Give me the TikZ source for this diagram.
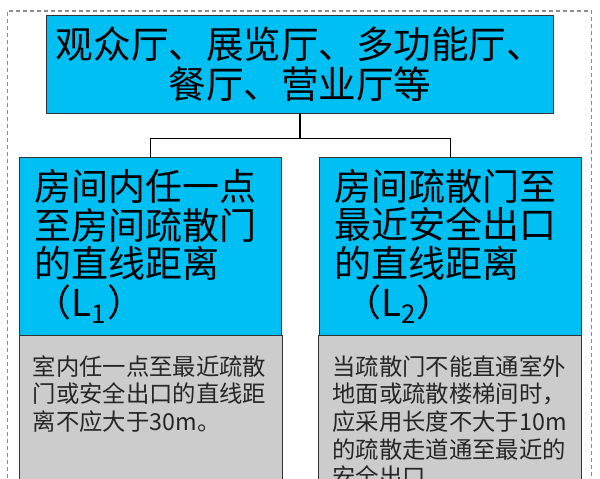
\documentclass[tikz,border=0pt]{standalone}
\usepackage{fontspec}
\setmainfont{Noto Sans CJK SC}
\usetikzlibrary{positioning}
\definecolor{hallblue}{RGB}{0,191,243}
\definecolor{rulegray}{RGB}{204,204,204}
\definecolor{framegray}{RGB}{140,140,140}

\tikzset{
	frame/.style={framegray, line width=0.8pt, dash pattern=on 0.1cm off 0.075cm},
	headbox/.style={draw=black!80, fill=hallblue, thin, inner sep=0pt, align=center,
		minimum width=12.665cm, minimum height=2.4575cm, font=\fontsize{26.7pt}{28.5pt}\selectfont},
	titlebox/.style={draw=black!80, fill=hallblue, thin, inner xsep=0.39cm, inner ysep=0pt,
		text width=5.78cm, minimum height=4.4425cm, align=left, font=\fontsize{26.3pt}{27.6pt}\selectfont},
	rulefill/.style={draw=black!80, fill=rulegray, thin},
	rulebox/.style={inner xsep=0.34cm, inner ysep=0.5cm, text width=6.2cm, align=left,
		text=black!85, font=\fontsize{16.6pt}{19.6pt}\selectfont},
	link/.style={black, line width=0.9pt}
}

\begin{document}
\begin{tikzpicture}[x=0.025cm,y=0.025cm]
	\useasboundingbox (0,0) rectangle (600,479);
	\clip (0,0) rectangle (600,479);
	\draw[frame] (7.3,-20) -- (7.3,468) -- (591.7,468) -- (591.7,-20);
	\node[headbox] (hall) at (300,414.85) {观众厅、展览厅、多功能厅、\\餐厅、营业厅等};
	\node[titlebox] (dist1) at (150.5,232.85) {房间内任一点\\至房间疏散门\\的直线距离\\（L\textsubscript{1}）};
	\node[titlebox, right=0.915cm of dist1] (dist2) {房间疏散门至\\最近安全出口\\的直线距离\\\hspace{0.25cm}（L\textsubscript{2}）};
	\filldraw[rulefill] (dist1.south west) rectangle ([yshift=-5cm]dist1.south east);
	\filldraw[rulefill] (dist2.south west) rectangle ([yshift=-5cm]dist2.south east);
	\node[rulebox, anchor=north west] (rule1) at (dist1.south west) {室内任一点至最近疏散\\门或安全出口的直线距\\离不应大于30m。};
	\node[rulebox, anchor=north west] (rule2) at (dist2.south west) {当疏散门不能直通室外\\地面或疏散楼梯间时，\\应采用长度不大于10m\\的疏散走道通至最近的\\安全出口。};
	\draw[link] (hall.south) -- ++(0,-25) -| (dist1.north);
	\draw[link] (hall.south) -- ++(0,-25) -| (dist2.north);
\end{tikzpicture}
\end{document}
